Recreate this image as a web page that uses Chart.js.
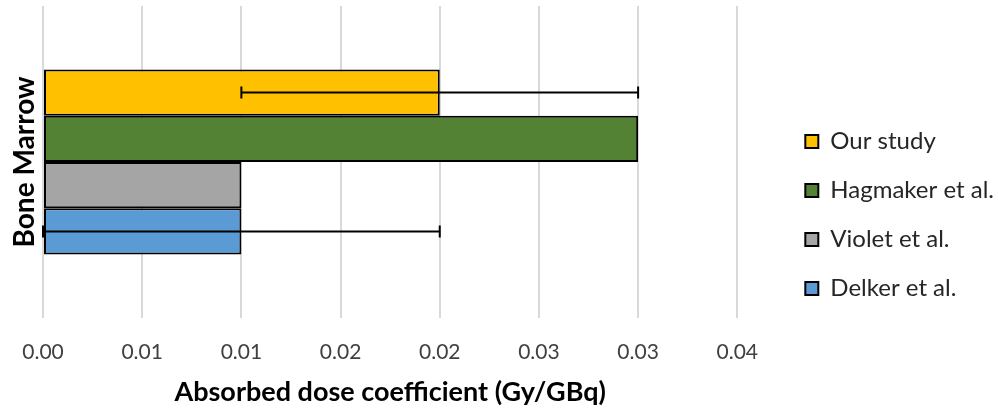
<!DOCTYPE html>
<html>
<head>
<meta charset="utf-8">
<style>
  html, body { margin: 0; padding: 0; background: #fff; }
  #wrap { width: 999px; height: 408px; }
</style>
</head>
<body>
<div id="wrap"><canvas id="doseChart"></canvas></div>

<script src="https://cdn.jsdelivr.net/npm/chart.js"></script>
<script>
  // data
  const categories = ['Bone Marrow'];
  const studies = ['Our study', 'Hagmaker et al.', 'Violet et al.', 'Delker et al.'];
  const doseValues = [0.020, 0.030, 0.010, 0.010];
  const doseErrors = [0.010, null, null, 0.010];
  const tickValues = [0, 0.005, 0.010, 0.015, 0.020, 0.025, 0.030, 0.035];
  const tickLabels = ['0.00', '0.01', '0.01', '0.02', '0.02', '0.03', '0.03', '0.04'];

  const fills = ['#FFC000', '#548235', '#A5A5A5', '#5B9BD5'];

  // empty space between the plot and the legend, like the Excel layout
  const legendGap = 38;
  const legendShift = 43;
  const legendDrop = 16;

  const legendSpacing = {
      id: 'legendSpacing',
      afterInit(chart) {
          const lg = chart.legend;
          const fit = lg.fit.bind(lg);
          lg.fit = function () {
              fit();
              this.width += legendGap;
          };
      },
      afterLayout(chart) {
          chart.legend.left += legendShift;
          chart.legend.top += legendDrop;
      }
  };

  // draws the horizontal error bars with small end caps
  const errorBars = {
      id: 'errorBars',
      afterDatasetsDraw(chart) {
          const ctx = chart.ctx;
          const xs = chart.scales.x;
          ctx.save();
          ctx.strokeStyle = '#000';
          ctx.lineWidth = 2;
          chart.data.datasets.forEach((ds, i) => {
              const err = doseErrors[i];
              if (err == null) return;
              const bar = chart.getDatasetMeta(i).data[0];
              const x1 = xs.getPixelForValue(ds.data[0] - err);
              const x2 = xs.getPixelForValue(ds.data[0] + err);
              const y = bar.y;
              ctx.beginPath();
              ctx.moveTo(x1, y); ctx.lineTo(x2, y);
              ctx.moveTo(x1, y - 6); ctx.lineTo(x1, y + 6);
              ctx.moveTo(x2, y - 6); ctx.lineTo(x2, y + 6);
              ctx.stroke();
          });
          ctx.restore();
      }
  };

  const ctx = document.getElementById('doseChart');
  const doseChart = new Chart(ctx, {
      type: 'bar',
      plugins: [legendSpacing, errorBars],
      data: {
          labels: categories,
          datasets: studies.map((name, i) => ({
              label: name,
              data: [doseValues[i]],
              backgroundColor: fills[i],
              borderColor: '#000',
              borderWidth: 2,
              borderSkipped: false,
              categoryPercentage: 0.593,
              barPercentage: 1.0,
          }))
      },
      options: {
          indexAxis: 'y',
          responsive: true,
          maintainAspectRatio: false,
          animation: false,
          layout: {
              padding: { top: 6, left: 0, right: 0, bottom: 0 }
          },
          plugins: {
              legend: {
                  position: 'right',
                  align: 'center',
                  labels: {
                      boxWidth: 13,
                      boxHeight: 13,
                      padding: 25,
                      color: '#262626',
                      font: { family: 'Lato', size: 24 },
                      generateLabels(chart) {
                          return chart.data.datasets.map((ds, i) => ({
                              text: ds.label,
                              fillStyle: ds.backgroundColor,
                              strokeStyle: '#000',
                              lineWidth: 2,
                              fontColor: '#262626',
                              datasetIndex: i,
                          }));
                      }
                  }
              },
              tooltip: { enabled: false },
          },
          scales: {
              x: {
                  type: 'linear',
                  min: 0,
                  max: 0.035,
                  afterBuildTicks(scale) {
                      scale.ticks = tickValues.map(v => ({ value: v }));
                  },
                  afterFit(scale) {
                      scale.height = 90;
                  },
                  grid: {
                      color: '#D9D9D9',
                      lineWidth: 2,
                      drawTicks: false,
                  },
                  border: { display: false },
                  ticks: {
                      padding: 22,
                      color: '#404040',
                      font: { family: 'Lato', size: 21 },
                      callback: (v, i) => tickLabels[i],
                  },
                  title: {
                      display: true,
                      text: 'Absorbed dose coefficient (Gy/GBq)',
                      color: '#000',
                      font: { family: 'Lato', size: 27, weight: 'bold' },
                      padding: { top: 0, bottom: 0 },
                  }
              },
              y: {
                  afterFit(scale) {
                      scale.width = 43;
                  },
                  grid: { display: false },
                  border: { display: false },
                  ticks: { display: false },
                  title: {
                      display: true,
                      text: categories[0],
                      color: '#000',
                      font: { family: 'Lato', size: 28, weight: 'bold' },
                      padding: { top: 8, bottom: 0 },
                  }
              }
          }
      }
  });
</script>
</body>
</html>
